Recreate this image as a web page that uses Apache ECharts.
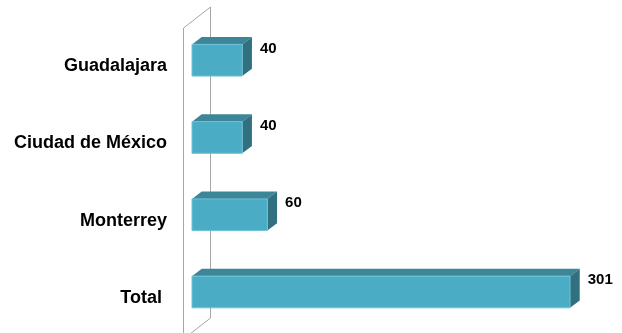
<!DOCTYPE html>
<html>
<head>
<meta charset="utf-8">
<script src="https://cdn.jsdelivr.net/npm/echarts@6/dist/echarts.min.js"></script>
<style>
html,body{margin:0;padding:0;background:#fff;}
#main{width:622px;height:333px;}
</style>
</head>
<body>
<div id="main"></div>
<script>
// Data (bottom to top)
var categories = ['Total ', 'Monterrey', 'Ciudad de México', 'Guadalajara'];
var values = [301, 60, 40, 40];

var FRONT = '#4BACC6';
var TOP = '#3C8698';
var SIDE = '#31707F';
var DX = 9.7, DY = 7.4;

var chart = echarts.init(document.getElementById('main'), null, {renderer: 'canvas'});

var seriesData = values.map(function (v, i) { return [v, i]; });

function renderBar(params, api) {
  var i = params.dataIndex;
  var v = api.value(0);
  var p0 = api.coord([0, i]);
  var p1 = api.coord([v, i]);
  var band = api.size([0, 1])[1];
  var h = band * 0.41;
  var x0 = p0[0], x1 = p1[0];
  var top = p0[1] - h / 2, bot = p0[1] + h / 2;
  return {
    type: 'group',
    children: [
      {
        type: 'polygon',
        shape: {points: [[x0, top], [x0 + DX, top - DY], [x1 + DX, top - DY], [x1, top]]},
        style: {fill: TOP}
      },
      {
        type: 'polygon',
        shape: {points: [[x1, top], [x1 + DX, top - DY], [x1 + DX, bot - DY], [x1, bot]]},
        style: {fill: SIDE}
      },
      {
        type: 'rect',
        shape: {x: x0, y: top, width: x1 - x0, height: h},
        style: {fill: FRONT, stroke: '#6EC3D8', lineWidth: 1}
      },
      {
        type: 'text',
        x: x1 + DX + 8,
        y: top + 4,
        style: {
          text: String(v),
          fill: '#000',
          font: 'bold 15px "Liberation Sans", Arial, sans-serif',
          align: 'left',
          verticalAlign: 'middle'
        }
      }
    ]
  };
}

var option = {
  animation: false,
  backgroundColor: '#ffffff',
  grid: {left: 192, right: 3, top: 21.6, bottom: 2.4, containLabel: false},
  xAxis: {
    type: 'value', min: 0, max: 340, show: false
  },
  yAxis: {
    type: 'category',
    data: categories,
    axisLine: {show: false},
    axisTick: {show: false},
    splitLine: {show: false},
    axisLabel: {
      margin: 25,
      color: '#000',
      fontFamily: '"Liberation Sans", Arial, sans-serif',
      fontWeight: 'bold',
      fontSize: 18,
      verticalAlign: 'top',
      lineHeight: 12
    }
  },
  graphic: [
    {
      type: 'polyline',
      silent: true,
      z: -1,
      shape: {points: [[183.5, 340], [183.5, 28], [210.5, 7], [210.5, 318], [183.5, 339]]},
      style: {stroke: '#A6A6A6', lineWidth: 1, fill: null}
    }
  ],
  series: [{
    type: 'custom',
    renderItem: renderBar,
    encode: {x: 0, y: 1},
    data: seriesData,
    z: 2
  }]
};
chart.setOption(option);
</script>
</body>
</html>
